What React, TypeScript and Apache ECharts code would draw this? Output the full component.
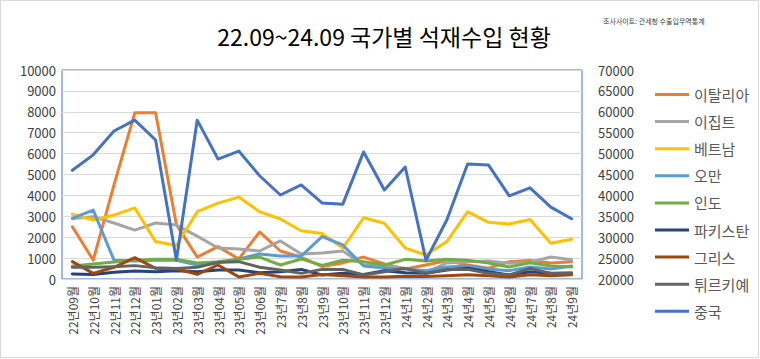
import React, { useEffect, useRef } from "react";
import * as echarts from "echarts";

const months = [
  "22년09월", "22년10월", "22년11월", "22년12월", "23년01월", "23년02월", "23년03월", "23년04월", "23년05월", "23년06월",
  "23년7월", "23년8월", "23년9월", "23년10월", "23년11월", "23년12월",
  "24년1월", "24년2월", "24년3월", "24년4월", "24년5월", "24년6월", "24년7월", "24년8월", "24년9월",
];

const italy = [2500, 900, 4500, 7950, 7950, 2600, 1050, 1550, 960, 2250, 1340, 1040, 600, 770, 1050, 720, 480, 670, 880, 670, 520, 830, 880, 770, 830];
const egypt = [2900, 2980, 2680, 2340, 2680, 2580, 2050, 1480, 1440, 1340, 1820, 1200, 1240, 1340, 670, 620, 500, 300, 770, 830, 860, 750, 800, 1050, 920];
const vietnam = [3100, 2820, 3060, 3400, 1790, 1600, 3220, 3630, 3920, 3220, 2870, 2310, 2180, 1480, 2930, 2670, 1480, 1150, 1790, 3220, 2710, 2630, 2850, 1710, 1900];
const oman = [2900, 3300, 900, 860, 900, 900, 670, 770, 960, 1200, 1100, 1100, 2030, 1630, 620, 520, 480, 400, 570, 620, 480, 400, 570, 480, 620];
const india = [620, 720, 810, 900, 950, 950, 770, 830, 950, 1050, 670, 960, 650, 900, 830, 670, 940, 860, 940, 900, 770, 570, 780, 620, 570];
const pakistan = [240, 220, 320, 380, 350, 400, 350, 430, 430, 300, 350, 460, 190, 270, 220, 400, 300, 270, 430, 520, 350, 190, 350, 270, 240];
const greece = [830, 270, 560, 1020, 510, 490, 220, 670, 100, 270, 110, 100, 220, 150, 100, 100, 130, 120, 150, 200, 150, 100, 200, 150, 200];
const turkey = [560, 560, 590, 640, 540, 500, 560, 800, 830, 560, 430, 270, 460, 460, 190, 350, 510, 270, 460, 460, 270, 190, 510, 270, 300];
const china = [46000, 49700, 55400, 58000, 53250, 24500, 58000, 48700, 50600, 44700, 40100, 42500, 38200, 37900, 50400, 41300, 46800, 24500, 34100, 47500, 47300, 39900, 41800, 37200, 34400];

const leftTicks = { min: 0, max: 10000, interval: 1000 };
const rightTicks = { min: 20000, max: 70000, interval: 5000 };

const seriesDefs = [
  { name: "이탈리아", data: italy, color: "#ED7D31", axis: 0 },
  { name: "이집트", data: egypt, color: "#A5A5A5", axis: 0 },
  { name: "베트남", data: vietnam, color: "#FFC000", axis: 0 },
  { name: "오만", data: oman, color: "#5B9BD5", axis: 0 },
  { name: "인도", data: india, color: "#70AD47", axis: 0 },
  { name: "파키스탄", data: pakistan, color: "#264478", axis: 0 },
  { name: "그리스", data: greece, color: "#9E480E", axis: 0 },
  { name: "튀르키예", data: turkey, color: "#636363", axis: 0 },
  { name: "중국", data: china, color: "#4472C4", axis: 1 },
];

const FONT = "'Noto Sans CJK KR', 'Noto Sans', sans-serif";

export default function App() {
  const ref = useRef<HTMLDivElement>(null);
  useEffect(() => {
    document.body.style.margin = "0";
    const chart = echarts.init(ref.current!, null, { renderer: "svg" });
    chart.setOption({
      animation: false,
      backgroundColor: "#ffffff",
      title: [
        {
          text: "22.09~24.09 국가별 석재수입 현황",
          left: 379,
          top: 19,
          textAlign: "center",
          textStyle: { fontFamily: FONT, fontSize: 23, fontWeight: "normal", color: "#000000" },
        },
        {
          text: "조사사이트: 관세청 수출입무역통계",
          left: 598,
          top: 12,
          textStyle: { fontFamily: FONT, fontSize: 7, fontWeight: "normal", color: "#404040" },
        },
      ],
      graphic: [
        {
          type: "rect",
          shape: { x: 0.5, y: 0.5, width: 758, height: 357 },
          style: { fill: "none", stroke: "#d9d9d9", lineWidth: 1 },
          silent: true,
        },
      ],
      legend: {
        orient: "vertical",
        left: 650,
        top: 82,
        itemWidth: 34,
        itemHeight: 3,
        itemGap: 12.1,
        icon: "rect",
        textStyle: { fontFamily: FONT, fontSize: 15, color: "#595959", padding: [0, 0, 0, 0] },
        data: seriesDefs.map((s) => ({ name: s.name, icon: "rect" })),
      },
      grid: {
        left: 62,
        top: 70,
        right: 178,
        bottom: 80,
        show: true,
        borderColor: "#4472C4",
        borderWidth: 1,
        containLabel: false,
      },
      xAxis: {
        type: "category",
        data: months,
        boundaryGap: true,
        axisLine: { show: false },
        axisTick: { show: false },
        axisLabel: {
          rotate: 90,
          interval: 0,
          margin: 7,
          fontFamily: FONT,
          fontSize: 12,
          color: "#404040",
        },
      },
      yAxis: [
        {
          type: "value",
          min: leftTicks.min,
          max: leftTicks.max,
          interval: leftTicks.interval,
          axisLine: { show: false },
          axisTick: { show: false },
          splitLine: { lineStyle: { color: "#d9d9d9", width: 1 } },
          axisLabel: {
            fontFamily: FONT,
            fontSize: 13,
            color: "#404040",
            margin: 6,
            formatter: (v: number) => String(v),
          },
        },
        {
          type: "value",
          min: rightTicks.min,
          max: rightTicks.max,
          interval: rightTicks.interval,
          position: "right",
          axisLine: { show: false },
          axisTick: { show: false },
          splitLine: { show: false },
          axisLabel: {
            fontFamily: FONT,
            fontSize: 13,
            color: "#404040",
            margin: 16,
            formatter: (v: number) => String(v),
          },
        },
      ],
      series: seriesDefs.map((s) => ({
        name: s.name,
        type: "line",
        yAxisIndex: s.axis,
        data: s.data,
        showSymbol: false,
        symbol: "none",
        color: s.color,
        lineStyle: { color: s.color, width: 3, join: "round", cap: "round" },
        z: s.axis === 1 ? 3 : 2,
      })),
    });
    return () => chart.dispose();
  }, []);
  return <div ref={ref} style={{ position: "fixed", left: 0, top: 0, width: 760, height: 359 }} />;
}
